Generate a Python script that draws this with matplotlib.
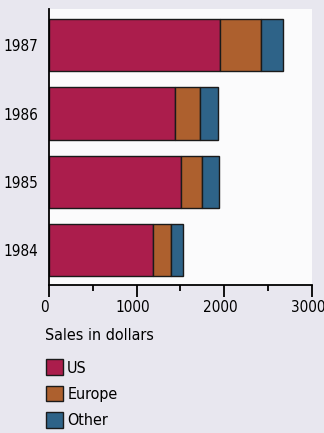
import numpy as np
import matplotlib
matplotlib.use("Agg")
import matplotlib.pyplot as plt
from matplotlib.patches import Patch
from matplotlib.ticker import MultipleLocator
from matplotlib.transforms import ScaledTranslation

# data
years = ['1984', '1985', '1986', '1987']
us = [1190, 1505, 1440, 1950]
europe = [200, 245, 285, 470]
other = [140, 190, 200, 245]
series_names = ['US', 'Europe', 'Other']
colors = ['#ab1d4c', '#ad602e', '#2e6388']

plt.rcParams['font.family'] = ['DejaVu Sans']
plt.rcParams['font.stretch'] = 'condensed'

fig = plt.figure(figsize=(3.24, 4.33), dpi=100, facecolor='#e8e7ef')
ax = fig.add_axes([0.151, 0.342, 0.812, 0.637])
ax.set_facecolor('#fbfbfc')

pos = np.arange(len(years))
left = np.zeros(len(years))
for vals, c in zip([us, europe, other], colors):
	ax.barh(pos, vals, left=left, height=0.765, color=c, edgecolor='#1a1a1a', linewidth=1.0)
	left = left + np.array(vals)

ax.set_xlim(0, 3000)
ax.set_ylim(-0.51, 3.53)
ax.set_yticks(pos)
ax.set_yticklabels(years, fontsize=11)
ax.tick_params(axis='y', length=0, pad=8)
ax.xaxis.set_major_locator(MultipleLocator(1000))
ax.xaxis.set_minor_locator(MultipleLocator(500))
ax.tick_params(axis='x', which='major', length=8.5, width=1.3, pad=2.5, labelsize=11)
ax.tick_params(axis='x', which='minor', length=4.3, width=1.3)
for s in ['top', 'right']:
	ax.spines[s].set_visible(False)
ax.spines['left'].set_linewidth(1.3)
ax.spines['bottom'].set_linewidth(1.3)

# labels in the original sit a little left of their ticks
shift = ScaledTranslation(-4/100., 0, fig.dpi_scale_trans)
for lab in ax.get_xticklabels():
	lab.set_transform(lab.get_transform() + shift)

fig.text(45/324, 1-335/433, 'Sales in dollars', fontsize=11.5, va='center', ha='left')
handles = [Patch(facecolor=c, edgecolor='#1a1a1a', linewidth=1.0) for c in colors]
fig.legend(handles, series_names, loc='upper left', bbox_to_anchor=(40/324, 1-353/433),
	frameon=False, fontsize=11.5, handlelength=1.05, handleheight=1.15,
	handletextpad=0.25, labelspacing=0.62, borderaxespad=0)

fig.savefig('out.png', dpi=100, facecolor=fig.get_facecolor())
